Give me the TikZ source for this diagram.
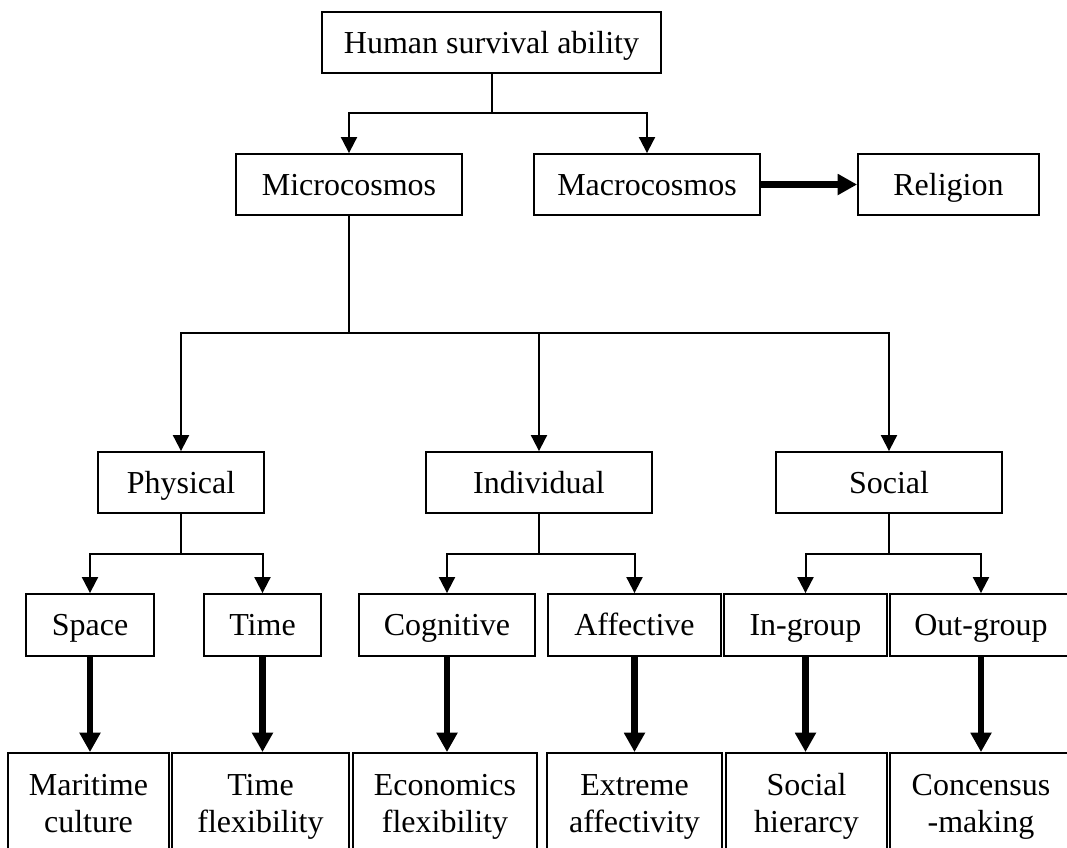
\documentclass[tikz,border=0pt]{standalone}
\usepackage{fontspec}
\setmainfont{Liberation Serif}
\usetikzlibrary{arrows.meta}
\begin{document}
\begin{tikzpicture}[x=0.75pt,y=-0.75pt,
  box/.style 2 args={draw, line width=1.4pt, rectangle, inner sep=0pt,
    minimum width=#1*0.75pt, minimum height=#2*0.75pt, align=center,
    font=\fontsize{24}{27.75}\selectfont},
  one/.style={text height=18pt, text depth=2.2pt},
  conn/.style={line width=1.5pt},
  arr/.style={conn, -{Triangle[length=12pt,width=12pt]}},
  bigarr/.style={line width=5.2pt, -{Triangle[length=14.5pt,width=15pt]}}]
\clip (0,0) rectangle (1067,847);
\fill[white] (0,0) rectangle (1067,847);

% root and first level
\node[box={339}{61}, one] (top) at (491.5,42.5) {Human survival ability};
\node[box={226}{61}, one] (micro) at (349,184.5) {Microcosmos};
\node[box={226}{61}, one] (macro) at (647,184.5) {Macrocosmos};
\node[box={181}{61}, one] (religion) at (948.5,184.5) {Religion};

% dimensions of the microcosmos
\node[box={166}{61}, one] (physical) at (181,482.5) {Physical};
\node[box={226}{61}, one] (individual) at (539,482.5) {Individual};
\node[box={226}{61}, one] (social) at (889,482.5) {Social};

% sub-dimensions
\node[box={128}{62}, one] (space) at (90,625) {Space};
\node[box={117}{62}, one] (time) at (262.5,625) {Time};
\node[box={176}{62}, one] (cognitive) at (447,625) {Cognitive};
\node[box={173}{62}, one] (affective) at (634.5,625) {Affective};
\node[box={163}{62}, one] (ingroup) at (805.5,625) {In-group};
\node[box={182}{62}, one] (outgroup) at (981,625) {Out-group};

% outcomes
\node[box={161}{108}] (maritime) at (88.5,807) {\strut Maritime\\culture\strut};
\node[box={177}{108}] (timeflex) at (260.5,807) {\strut Time\\flexibility\strut};
\node[box={184}{108}] (econ) at (445,807) {\strut Economics\\flexibility\strut};
\node[box={175}{108}] (extreme) at (634.5,807) {\strut Extreme\\affectivity\strut};
\node[box={161}{108}] (hier) at (806.5,807) {\strut Social\\hierarcy\strut};
\node[box={182}{108}] (consensus) at (981,807) {\strut Concensus\\-making\strut};

% branching junctions
\coordinate (j0) at (top.south |- 0,113);
\coordinate (j1) at (micro.south |- 0,333);
\coordinate (j2) at (physical.south |- 0,554);
\coordinate (j3) at (individual.south |- 0,554);
\coordinate (j4) at (social.south |- 0,554);

\draw[conn] (top.south) -- (j0);
\draw[arr] (j0) -| (micro.north);
\draw[arr] (j0) -| (macro.north);
\draw[bigarr] (macro.east) -- (religion.west);

\draw[conn] (micro.south) -- (j1);
\draw[arr] (j1) -| (physical.north);
\draw[arr] (j1) -| (individual.north);
\draw[arr] (j1) -| (social.north);

\draw[conn] (physical.south) -- (j2);
\draw[arr] (j2) -| (space.north);
\draw[arr] (j2) -| (time.north);
\draw[conn] (individual.south) -- (j3);
\draw[arr] (j3) -| (cognitive.north);
\draw[arr] (j3) -| (affective.north);
\draw[conn] (social.south) -- (j4);
\draw[arr] (j4) -| (ingroup.north);
\draw[arr] (j4) -| (outgroup.north);

\draw[bigarr] (space.south) -- (space.south |- maritime.north);
\draw[bigarr] (time.south) -- (time.south |- timeflex.north);
\draw[bigarr] (cognitive.south) -- (cognitive.south |- econ.north);
\draw[bigarr] (affective.south) -- (affective.south |- extreme.north);
\draw[bigarr] (ingroup.south) -- (ingroup.south |- hier.north);
\draw[bigarr] (outgroup.south) -- (outgroup.south |- consensus.north);
\end{tikzpicture}
\end{document}
